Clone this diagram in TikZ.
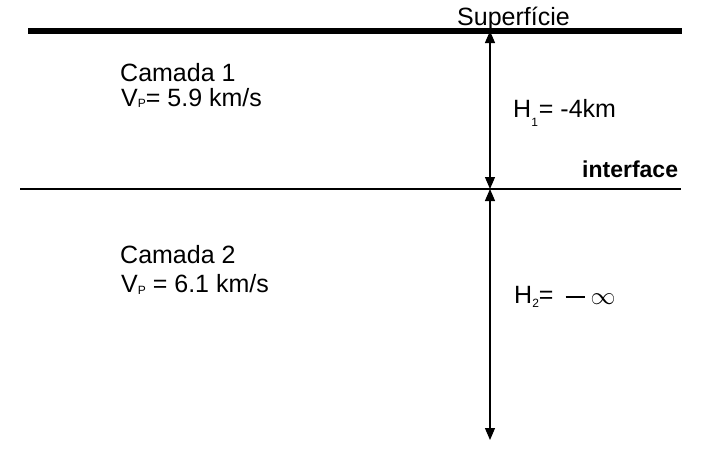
\documentclass[tikz,border=0pt]{standalone}
\usepackage{fontspec}
\setmainfont{Liberation Sans}
\usetikzlibrary{arrows.meta}
\tikzset{
  lbl/.style={anchor=base west, inner sep=0pt, font=\fontsize{25}{29}\selectfont},
  bl/.style={anchor=base west, inner sep=0pt, font=\fontsize{23}{27}\selectfont\bfseries},
  dim/.style={line width=1.2pt, {Triangle[width=10pt,length=12pt]}-{Triangle[width=10pt,length=12pt]}},
}
\newcommand{\sbs}[2]{\raisebox{#1}{\fontsize{12}{12}\selectfont #2}}
\begin{document}
\begin{tikzpicture}[x=1pt,y=-1pt]
\useasboundingbox (0,0) rectangle (720,450);
\coordinate (tl) at (28,31);
\coordinate (tr) at (682,31);
\coordinate (il) at (20,189);
\coordinate (ir) at (681,189);
\coordinate (s) at (490,31);
\coordinate (i) at (490,189);
\coordinate (b) at (490,440);
\draw[line width=6pt] (tl) -- (tr);
\draw[line width=1.5pt] (il) -- (ir);
\draw[dim] (s) -- (i);
\draw[dim] (i) -- (b);
\node[lbl] (sup) at (457,25) {Superfície};
\node[lbl] (c1) at (120,81) {Camada 1};
\node[lbl] (v1) at (121,106) {V\sbs{-1pt}{P}= 5.9 km/s};
\node[lbl] (h1) at (513,117) {H\sbs{-9pt}{1}\kern1pt= -4km};
\node[bl] (int) at (582,177) {interface};
\node[lbl] (c2) at (120,263) {Camada 2};
\node[lbl] (v2) at (121,292) {V\sbs{-2pt}{P} = 6.1 km/s};
\node[lbl] (h2) at (514,303) {H\sbs{-4pt}{2}=\hspace{12pt}\rule[5pt]{19pt}{1.6pt}\hspace{6pt}\raisebox{-1pt}{\fontsize{27}{27}\selectfont$\infty$}};
\end{tikzpicture}
\end{document}
